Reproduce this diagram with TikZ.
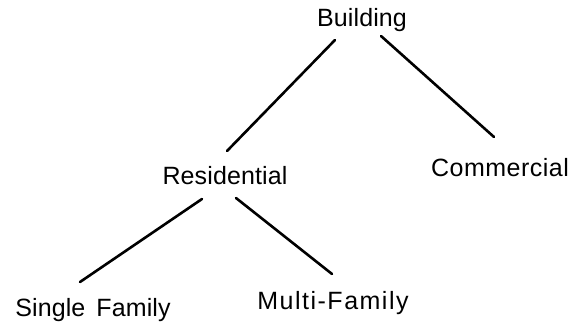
\documentclass[tikz,border=0pt]{standalone}
\usepackage{fontspec}
\setmainfont{Liberation Sans}[LetterSpace=0.5]
\usetikzlibrary{calc}
\begin{document}
\begin{tikzpicture}[x=1pt,y=1pt,
  lbl/.style={anchor=base,inner sep=0pt,font=\fontsize{25}{29}\selectfont},
  edge/.style={line width=2.6pt,line cap=round}]
\useasboundingbox (0,0) rectangle (572,326);
\node[lbl] (b) at (362,299) {Building};
\node[lbl] (r) at (225,141) {Residential};
\node[lbl,font=\fontsize{25}{29}\selectfont\addfontfeatures{LetterSpace=2}] (c) at (500,149) {Commercial};
\node[lbl] (s) at (93,9) {Single\hspace{4pt} Family};
\node[lbl,font=\fontsize{25}{29}\selectfont\addfontfeatures{LetterSpace=6}] (m) at (333,16) {Multi-Family};
\draw[edge] ([shift={(-27,-13)}]b.base) -- ([shift={(2,34)}]r.base);
\draw[edge] ([shift={(19,-9)}]b.base) -- ([shift={(-6,40)}]c.base);
\draw[edge] ([shift={(-23,-14)}]r.base) -- ([shift={(-13,35)}]s.base);
\draw[edge] ([shift={(11,-13)}]r.base) -- ([shift={(-1,36)}]m.base);
\end{tikzpicture}
\end{document}
